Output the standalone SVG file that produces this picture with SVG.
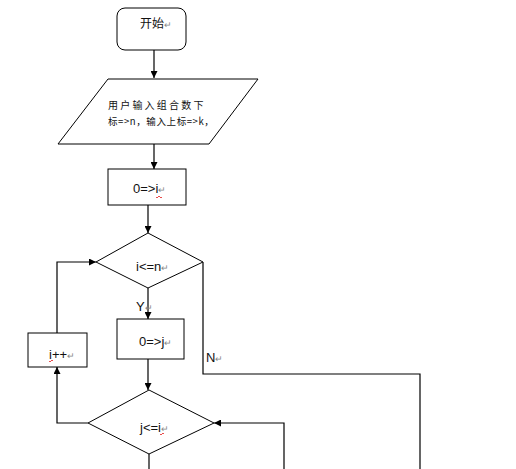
<svg xmlns="http://www.w3.org/2000/svg" width="516" height="469" viewBox="0 0 516 469">
<style>
.s{fill:#fff;stroke:#000;stroke-width:1}
.c{fill:none;stroke:#000;stroke-width:1.2}
.t{font-family:"Liberation Sans","Noto Sans CJK SC",sans-serif;font-size:13px;fill:#111}
.cj{font-family:"Noto Sans CJK SC","Liberation Sans",sans-serif;fill:#111}
.m{fill:#888;font-size:9px}
.w{fill:none;stroke:#d00;stroke-width:0.7}
</style>
<defs>
<marker id="a" viewBox="0 0 10 10" refX="10" refY="5" markerWidth="7" markerHeight="7" markerUnits="userSpaceOnUse" orient="auto">
<path d="M0,0L10,5L0,10z" fill="#000"/>
</marker>
</defs>
<rect width="516" height="469" fill="#fff"/>
<g id="connectors">
<path class="c" d="M154,50V78" marker-end="url(#a)"/>
<path class="c" d="M154,144V169" marker-end="url(#a)"/>
<path class="c" d="M148,205V233" marker-end="url(#a)"/>
<path class="c" d="M148,288V319" marker-end="url(#a)"/>
<path class="c" d="M148,359V390" marker-end="url(#a)"/>
<path class="c" d="M149,454V469"/>
<path class="c" d="M88,423H57V367" marker-end="url(#a)"/>
<path class="c" d="M57,333V262H96" marker-end="url(#a)"/>
<path class="c" d="M203,262V374H420V469"/>
<path class="c" d="M284,469V423H214" marker-end="url(#a)"/>
<text class="t" x="136" y="311" font-size="10">Y<tspan class="m">↵</tspan></text>
<text class="t" x="206" y="362" font-size="11">N<tspan class="m">↵</tspan></text>
</g>
<g id="start">
<rect class="s" x="117" y="8" width="69" height="42" rx="8"/>
<text class="cj" x="140" y="28" font-size="12">开始<tspan class="m">↵</tspan></text>
</g>
<g id="input">
<path class="s" d="M108,79H258L209,144H58z"/>
<text class="cj" x="108" y="109" font-size="10" letter-spacing="2.2">用户输入组合数下</text>
<text class="cj" x="108" y="125" font-size="9.5" letter-spacing="0.6">标=&gt;n，输入上标=&gt;k，</text>
</g>
<g id="init-i">
<rect class="s" x="108" y="169" width="78" height="36"/>
<text class="t" x="133" y="193">0=&gt;i<tspan class="m">↵</tspan></text>
<path class="w" d="M156,197q1,2 2,0t2,0t2,0"/>
</g>
<g id="cond-i">
<path class="s" d="M148,233L203,262L148,288L96,262z"/>
<text class="t" x="136" y="271">i&lt;=n<tspan class="m">↵</tspan></text>
</g>
<g id="init-j">
<rect class="s" x="117" y="319" width="67" height="40"/>
<text class="t" x="139" y="346">0=&gt;j<tspan class="m">↵</tspan></text>
</g>
<g id="inc-i">
<rect class="s" x="28" y="333" width="59" height="34"/>
<text class="t" x="49" y="359">i++<tspan class="m">↵</tspan></text>
<path class="w" d="M49,361q1,2 2,0t2,0"/>
</g>
<g id="cond-j">
<path class="s" d="M149,390L214,423L149,454L88,423z"/>
<text class="t" x="140" y="432">j&lt;=i<tspan class="m">↵</tspan></text>
<path class="w" d="M160,434q1,2 2,0t2,0"/>
</g>
</svg>
